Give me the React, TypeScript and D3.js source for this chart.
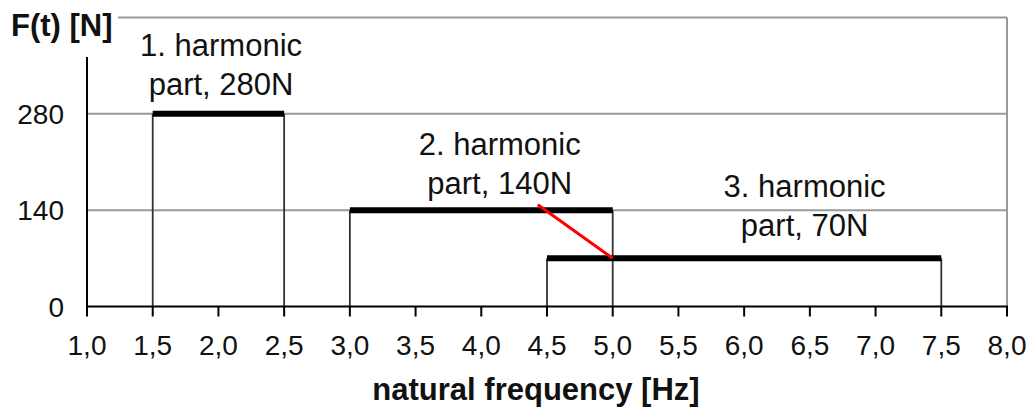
import React from "react";
import * as d3 from "d3";

const xTicks = [1.0, 1.5, 2.0, 2.5, 3.0, 3.5, 4.0, 4.5, 5.0, 5.5, 6.0, 6.5, 7.0, 7.5, 8.0];
const yTicks = [0, 140, 280];
const gridValues = [140, 280];

const barStart = [1.5, 3.0, 4.5];
const barEnd = [2.5, 5.0, 7.5];
const barForce = [280, 140, 70];

const labelLine1 = ["1. harmonic", "2. harmonic", "3. harmonic"];
const labelLine2 = ["part, 280N", "part, 140N", "part, 70N"];
const labelX = [2.02, 4.14, 6.46];
const labelY = [364, 220, 159];

const redLineX = [4.43, 5.0];
const redLineY = [148, 70];

const W = 1027;
const H = 410;
const FONT = "'Liberation Sans', Arial, sans-serif";

export default function App() {
  const x = d3.scaleLinear().domain([1, 8]).range([87, 1007]);
  const y = d3.scaleLinear().domain([0, 420]).range([306.5, 17.5]);
  const fmt = (v: number) => v.toFixed(1).replace(".", ",");
  const redLine = d3
    .line<number>()
    .x((_, i) => x(redLineX[i]))
    .y((d) => y(d))(redLineY);

  return (
    <svg
      width={W}
      height={H}
      style={{ position: "absolute", left: 0, top: 0, background: "#fff" }}
      fontFamily={FONT}
    >
      {gridValues.map((v) => (
        <line key={v} x1={x(1)} x2={x(8)} y1={y(v)} y2={y(v)} stroke="#999" strokeWidth={2} />
      ))}
      <line x1={118} x2={x(8)} y1={y(420)} y2={y(420)} stroke="#999" strokeWidth={2} />
      <line x1={x(8)} x2={x(8)} y1={y(420)} y2={y(0)} stroke="#999" strokeWidth={2} />

      {barStart.map((s, i) => (
        <g key={i}>
          <line x1={x(s)} x2={x(s)} y1={y(0)} y2={y(barForce[i])} stroke="#333" strokeWidth={1.8} />
          <line x1={x(barEnd[i])} x2={x(barEnd[i])} y1={y(0)} y2={y(barForce[i])} stroke="#333" strokeWidth={1.8} />
          <line x1={x(s)} x2={x(barEnd[i])} y1={y(barForce[i])} y2={y(barForce[i])} stroke="#000" strokeWidth={6} />
        </g>
      ))}

      <path d={redLine || ""} stroke="#f00" strokeWidth={3} fill="none" />

      <line x1={x(1)} x2={x(1)} y1={57} y2={y(0)} stroke="#000" strokeWidth={2} />
      <line x1={x(1) - 1} x2={x(8) + 1} y1={y(0)} y2={y(0)} stroke="#000" strokeWidth={2.2} />
      {xTicks.map((t) => (
        <g key={t}>
          <line x1={x(t)} x2={x(t)} y1={y(0)} y2={y(0) + 10} stroke="#000" strokeWidth={2} />
          <text x={x(t)} y={355} textAnchor="middle" fontSize={28} fill="#111">
            {fmt(t)}
          </text>
        </g>
      ))}
      {yTicks.map((t) => (
        <text key={t} x={64} y={y(t) + 10} textAnchor="end" fontSize={28} fill="#111">
          {t}
        </text>
      ))}

      <text x={11} y={36} fontSize={31} fontWeight="bold" fill="#111">
        F(t) [N]
      </text>
      <text x={536} y={400} textAnchor="middle" fontSize={31} fontWeight="bold" fill="#111">
        natural frequency [Hz]
      </text>

      {labelLine1.map((l, i) => (
        <text key={i} x={x(labelX[i])} y={y(labelY[i])} textAnchor="middle" fontSize={31} fill="#111">
          <tspan x={x(labelX[i])}>{l}</tspan>
          <tspan x={x(labelX[i])} dy={39}>
            {labelLine2[i]}
          </tspan>
        </text>
      ))}
    </svg>
  );
}
